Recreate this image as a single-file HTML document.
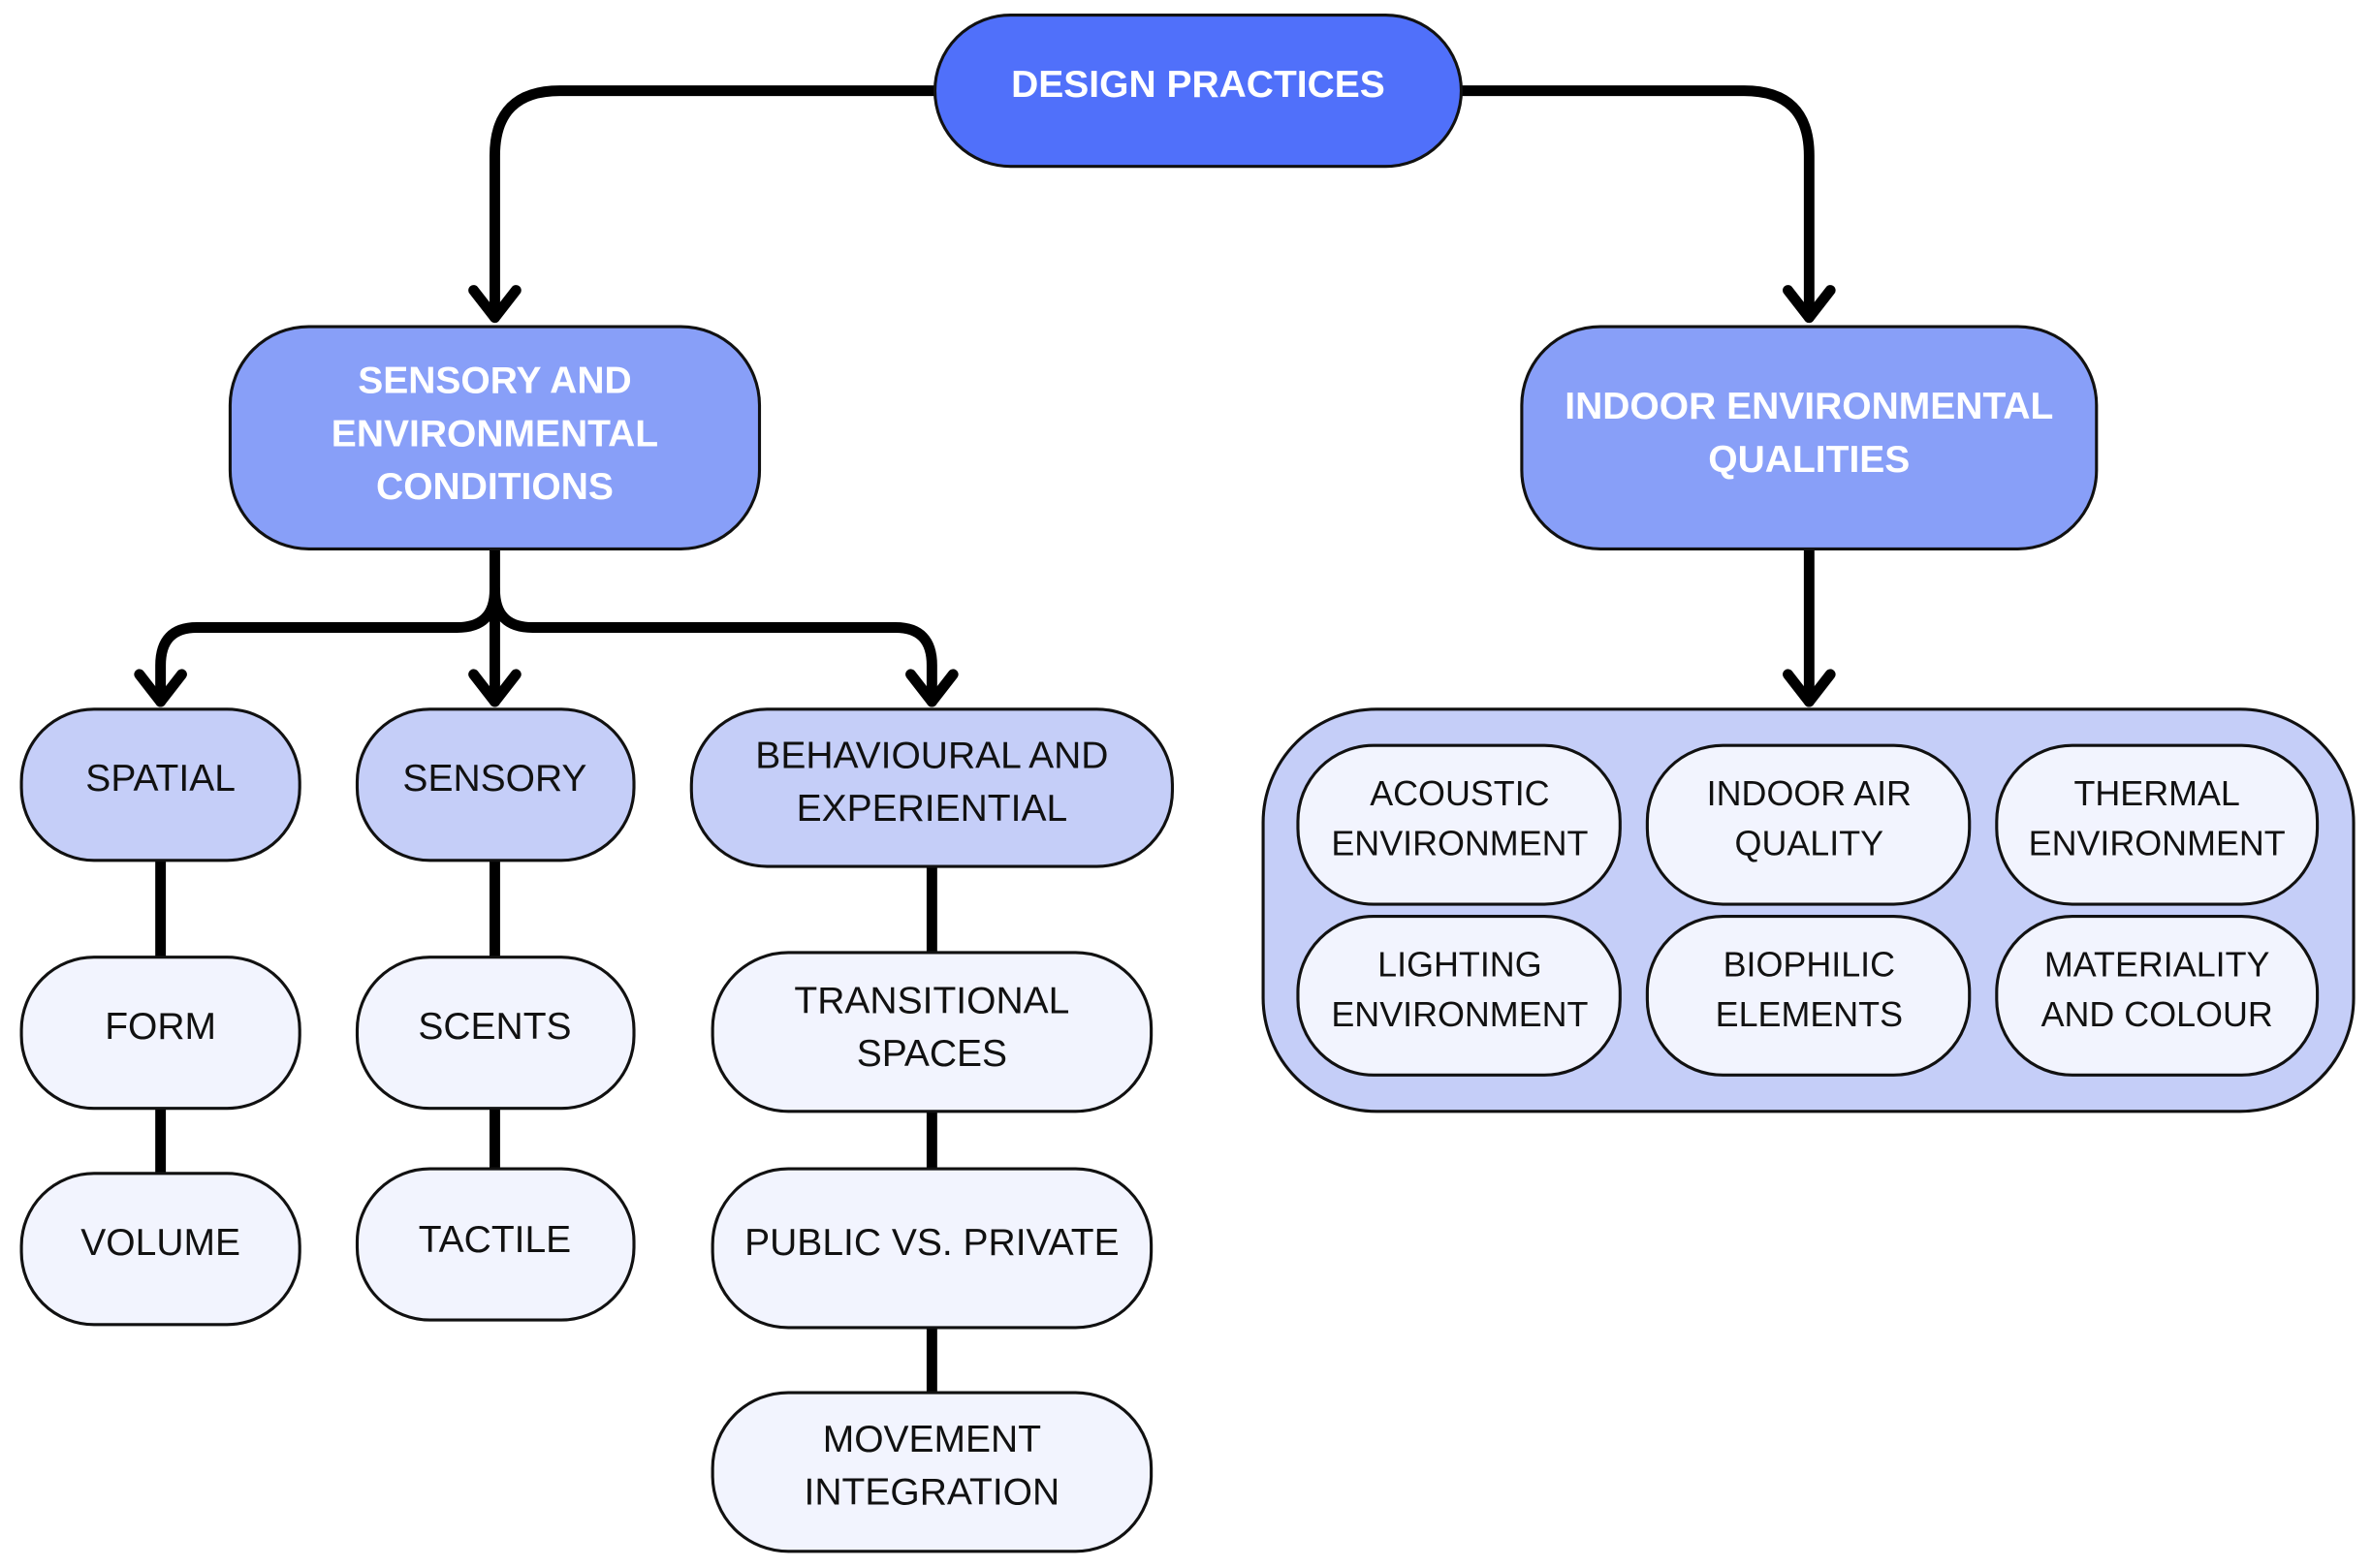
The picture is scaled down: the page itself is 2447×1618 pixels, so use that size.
<!DOCTYPE html>
<html><head><meta charset="utf-8"><style>html,body{margin:0;padding:0;background:#fff}svg{display:block}text{font-family:"Liberation Sans",Arial,sans-serif}</style></head>
<body>
<svg xmlns="http://www.w3.org/2000/svg" width="2447" height="1618" viewBox="0 0 1568 1037">
<g fill="none" stroke="#000" stroke-width="7" stroke-linecap="round" stroke-linejoin="round">
<path d="M618 60 H370 Q327 60 327 103 V210"/>
<path d="M966 60 H1153 Q1196 60 1196 103 V210"/>
<path d="M327 363 V464"/>
<path d="M327 390 Q327 415 302 415 H130 Q106 415 106 440 V464"/>
<path d="M327 390 Q327 415 352 415 H592 Q616 415 616 440 V464"/>
<path d="M1196 363 V464"/>
<path d="M106 569 V633 M106 733 V776 M327 569 V633 M327 733 V773 M616 573 V630 M616 735 V773 M616 878 V921"/>
<path d="M313 192 L327 210 L341 192 M1182 192 L1196 210 L1210 192 M92 446 L106 464 L120 446 M313 446 L327 464 L341 446 M602 446 L616 464 L630 446 M1182 446 L1196 464 L1210 446"/>
</g>
<g stroke="#111" stroke-width="2">
<rect x="618" y="10" width="348" height="100" rx="50" fill="#5070fa"/>
<rect x="152" y="216" width="350" height="147" rx="52" fill="#889ff8"/>
<rect x="1006" y="216" width="380" height="147" rx="52" fill="#889ff8"/>
<rect x="14" y="469" width="184" height="100" rx="48" fill="#c5cef8"/>
<rect x="236" y="469" width="183" height="100" rx="48" fill="#c5cef8"/>
<rect x="457" y="469" width="318" height="104" rx="50" fill="#c5cef8"/>
<rect x="14" y="633" width="184" height="100" rx="48" fill="#f2f4fe"/>
<rect x="14" y="776" width="184" height="100" rx="48" fill="#f2f4fe"/>
<rect x="236" y="633" width="183" height="100" rx="48" fill="#f2f4fe"/>
<rect x="236" y="773" width="183" height="100" rx="48" fill="#f2f4fe"/>
<rect x="471" y="630" width="290" height="105" rx="50" fill="#f2f4fe"/>
<rect x="471" y="773" width="290" height="105" rx="50" fill="#f2f4fe"/>
<rect x="471" y="921" width="290" height="105" rx="50" fill="#f2f4fe"/>
<rect x="835" y="469" width="721" height="266" rx="75" fill="#c5cef8"/>
<rect x="858" y="493" width="213" height="105" rx="50" fill="#f2f4fe"/>
<rect x="1089" y="493" width="213" height="105" rx="50" fill="#f2f4fe"/>
<rect x="1320" y="493" width="212" height="105" rx="50" fill="#f2f4fe"/>
<rect x="858" y="606" width="213" height="105" rx="50" fill="#f2f4fe"/>
<rect x="1089" y="606" width="213" height="105" rx="50" fill="#f2f4fe"/>
<rect x="1320" y="606" width="212" height="105" rx="50" fill="#f2f4fe"/>
</g>
<g text-anchor="middle" dominant-baseline="central">
<g fill="#fff" font-weight="bold" font-size="25">
<text x="792" y="56">DESIGN PRACTICES</text>
<text x="327" y="252">SENSORY AND</text>
<text x="327" y="287">ENVIRONMENTAL</text>
<text x="327" y="322">CONDITIONS</text>
<text x="1196" y="269">INDOOR ENVIRONMENTAL</text>
<text x="1196" y="304">QUALITIES</text>
</g>
<g fill="#111" font-size="25">
<text x="106" y="515">SPATIAL</text>
<text x="327" y="515">SENSORY</text>
<text x="616" y="500">BEHAVIOURAL AND</text>
<text x="616" y="535">EXPERIENTIAL</text>
<text x="106" y="679">FORM</text>
<text x="106" y="822">VOLUME</text>
<text x="327" y="679">SCENTS</text>
<text x="327" y="820">TACTILE</text>
<text x="616" y="662">TRANSITIONAL</text>
<text x="616" y="697">SPACES</text>
<text x="616" y="822">PUBLIC VS. PRIVATE</text>
<text x="616" y="952">MOVEMENT</text>
<text x="616" y="987">INTEGRATION</text>
</g>
<g fill="#111" font-size="23">
<text x="965" y="525">ACOUSTIC</text>
<text x="965" y="558">ENVIRONMENT</text>
<text x="1196" y="525">INDOOR AIR</text>
<text x="1196" y="558">QUALITY</text>
<text x="1426" y="525">THERMAL</text>
<text x="1426" y="558">ENVIRONMENT</text>
<text x="965" y="638">LIGHTING</text>
<text x="965" y="671">ENVIRONMENT</text>
<text x="1196" y="638">BIOPHILIC</text>
<text x="1196" y="671">ELEMENTS</text>
<text x="1426" y="638">MATERIALITY</text>
<text x="1426" y="671">AND COLOUR</text>
</g>
</g>
</svg>
</body></html>
